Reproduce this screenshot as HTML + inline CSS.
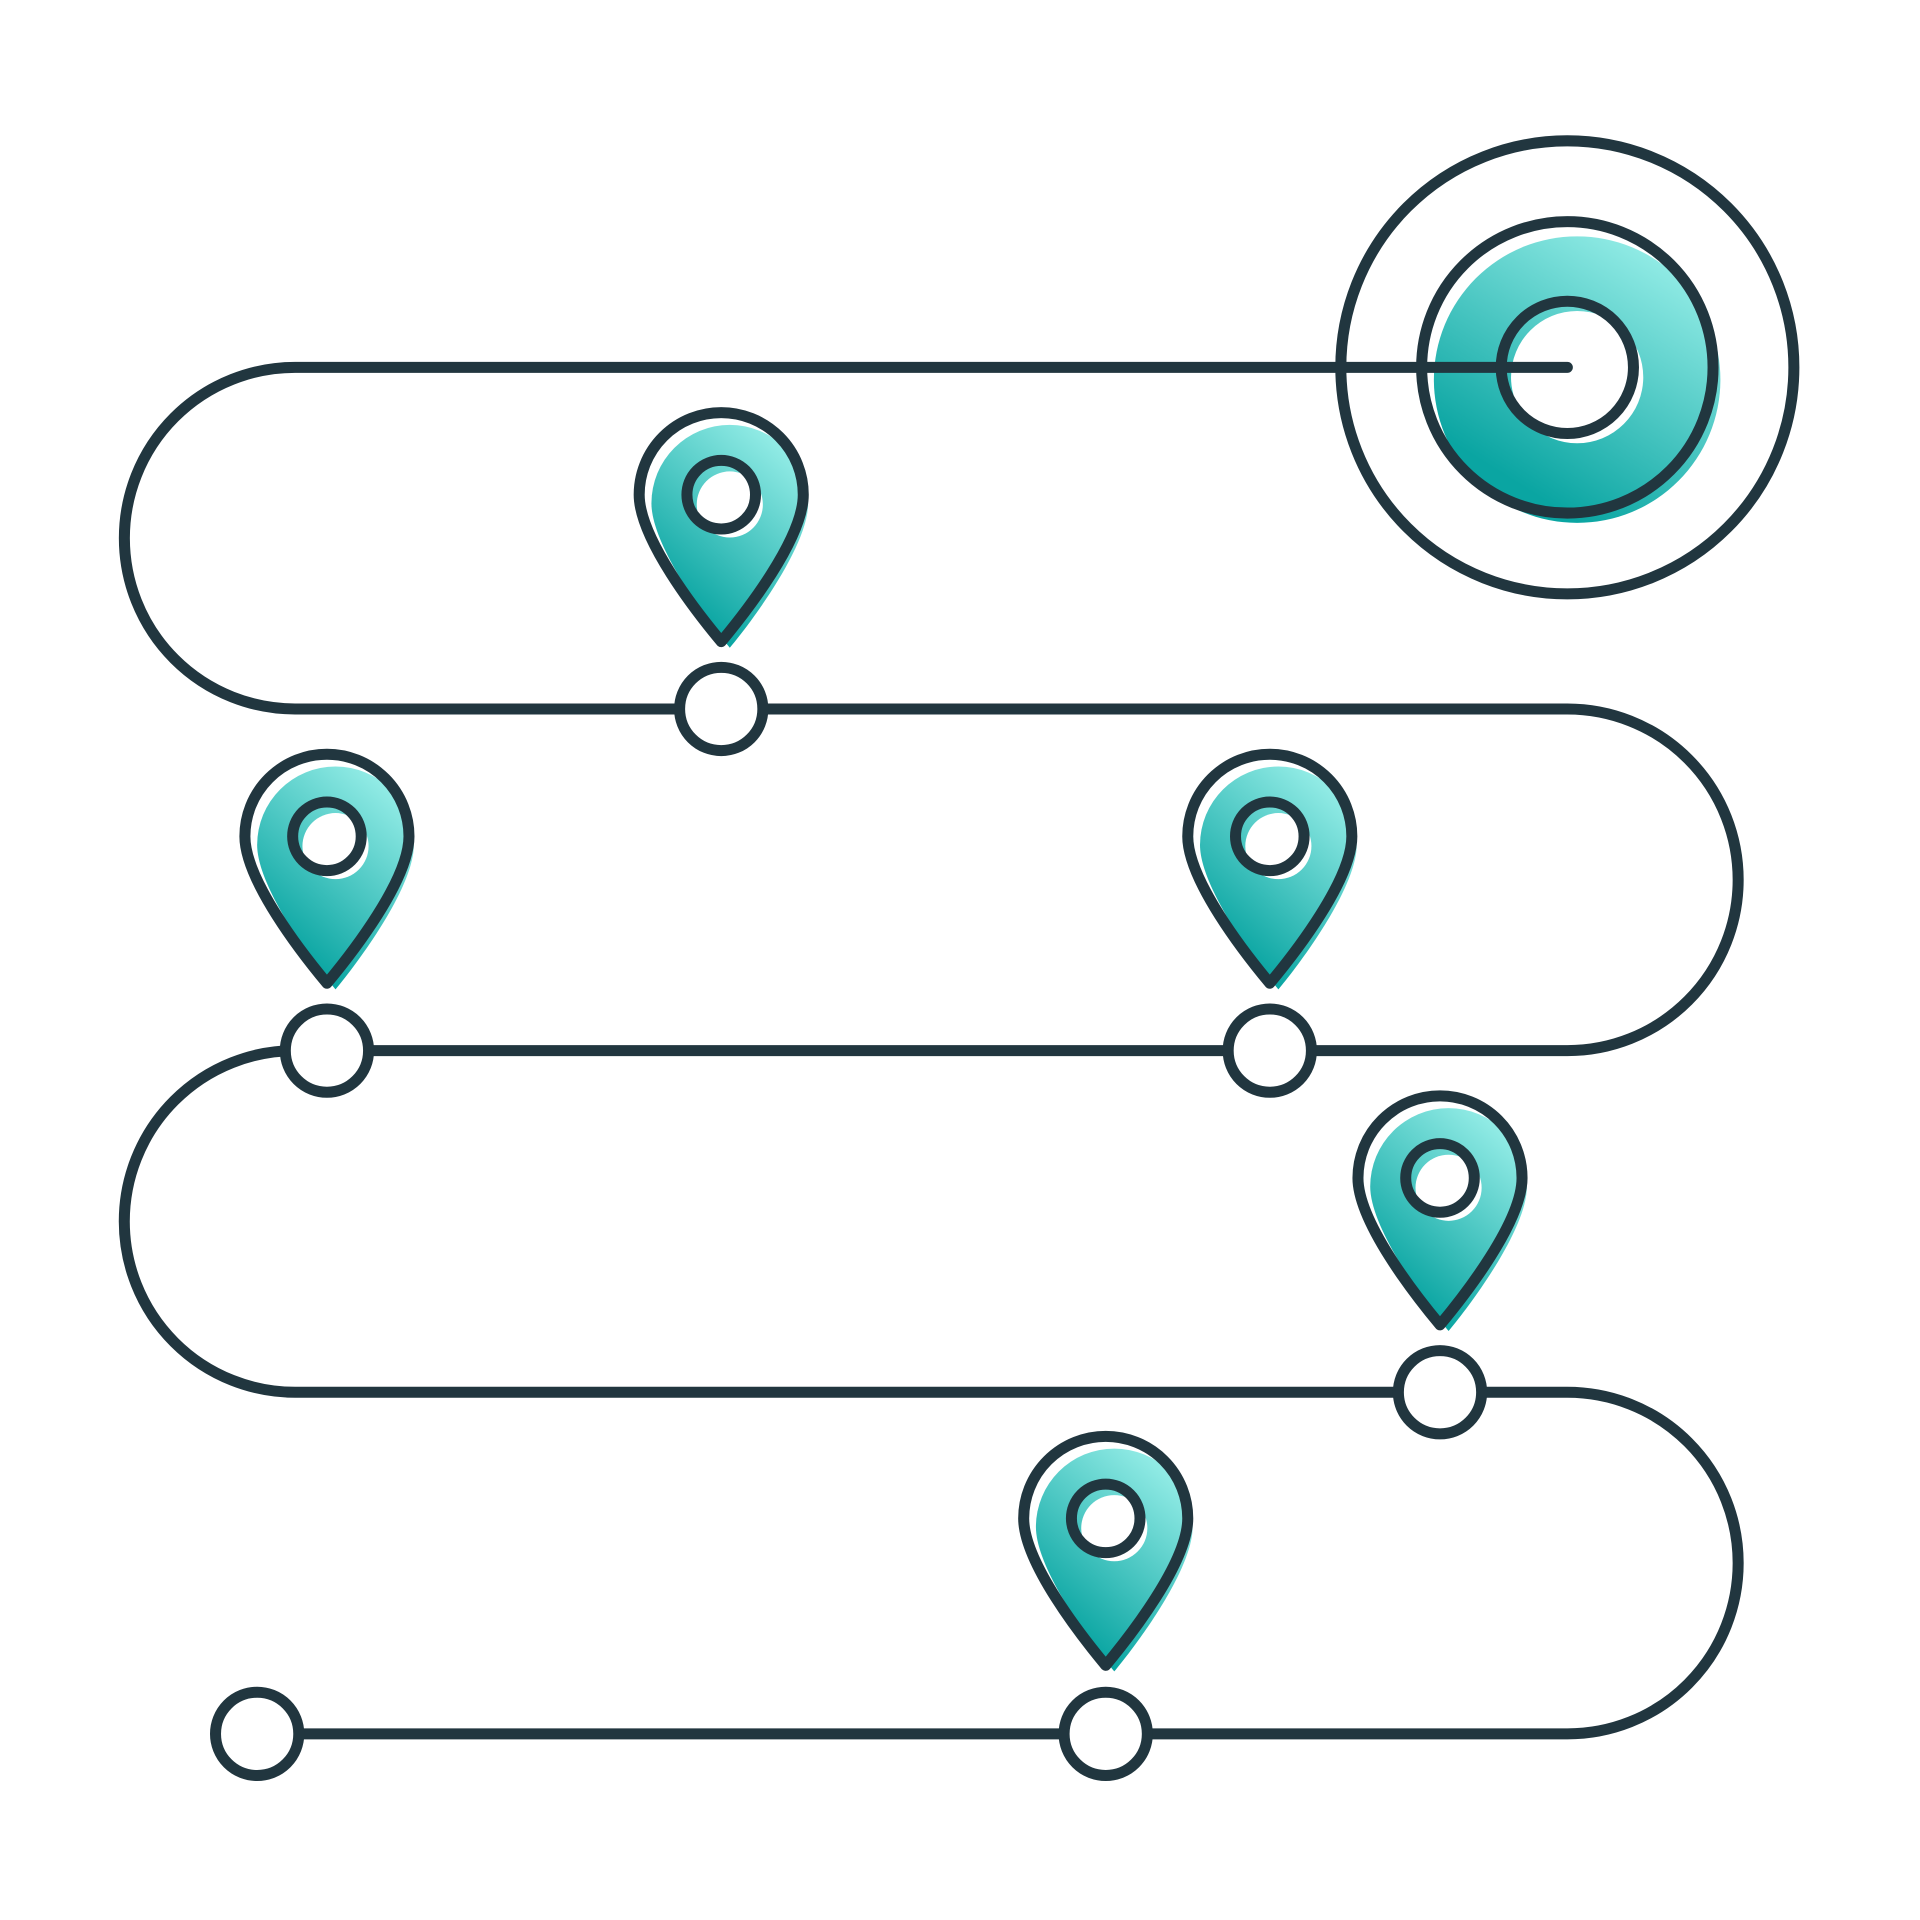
<!DOCTYPE html>
<html><head><meta charset="utf-8"><style>
html,body{margin:0;padding:0;background:#fff;}
svg{display:block;}
</style></head><body>
<svg width="1920" height="1920" viewBox="0 0 1568 1568" xmlns="http://www.w3.org/2000/svg">
<defs>
<linearGradient id="g" x1="0.85" y1="0.1" x2="0.35" y2="0.9">
<stop offset="0" stop-color="#93ece6"/>
<stop offset="1" stop-color="#0aa5a2"/>
</linearGradient>
<g id="pin">
  <path d="M-64,0 A64,64 0 0 1 64,0 C64,34 20,94 0,118 C-20,94 -64,34 -64,0 Z" transform="translate(7,7)" fill="url(#g)"/>
  <circle cx="7" cy="8" r="27" fill="#fff"/>
  <path d="M-67,0 A67,67 0 0 1 67,0 C67,36 20,96 0,120 C-20,96 -67,36 -67,0 Z" fill="none" stroke="#21363f" stroke-width="9" stroke-linejoin="round"/>
  <circle cx="0" cy="0" r="28" fill="none" stroke="#21363f" stroke-width="9"/>
</g>
<g id="node"><circle r="34" fill="#fff" stroke="#21363f" stroke-width="9"/></g>
</defs>

<circle cx="1288" cy="310" r="117" fill="url(#g)"/>
<circle cx="1288" cy="308" r="54" fill="#fff"/>

<path d="M1280,300 H241 A139.5,139.5 0 0 0 241,579 H1280 A139.5,139.5 0 0 1 1280,858 H241 A139.5,139.5 0 0 0 241,1137 H1280 A139.5,139.5 0 0 1 1280,1416 H210"
 fill="none" stroke="#21363f" stroke-width="9" stroke-linecap="round"/>

<circle cx="1280" cy="300" r="185" fill="none" stroke="#21363f" stroke-width="9"/>
<circle cx="1280" cy="300" r="119" fill="none" stroke="#21363f" stroke-width="9"/>
<circle cx="1280" cy="300" r="54" fill="none" stroke="#21363f" stroke-width="9"/>

<use href="#node" x="589" y="579"/>
<use href="#node" x="267" y="858"/>
<use href="#node" x="1037" y="858"/>
<use href="#node" x="1176" y="1137"/>
<use href="#node" x="903" y="1416"/>
<use href="#node" x="210" y="1416"/>

<use href="#pin" x="589" y="404"/>
<use href="#pin" x="267" y="683"/>
<use href="#pin" x="1037" y="683"/>
<use href="#pin" x="1176" y="962"/>
<use href="#pin" x="903" y="1240"/>
</svg>
</body></html>
